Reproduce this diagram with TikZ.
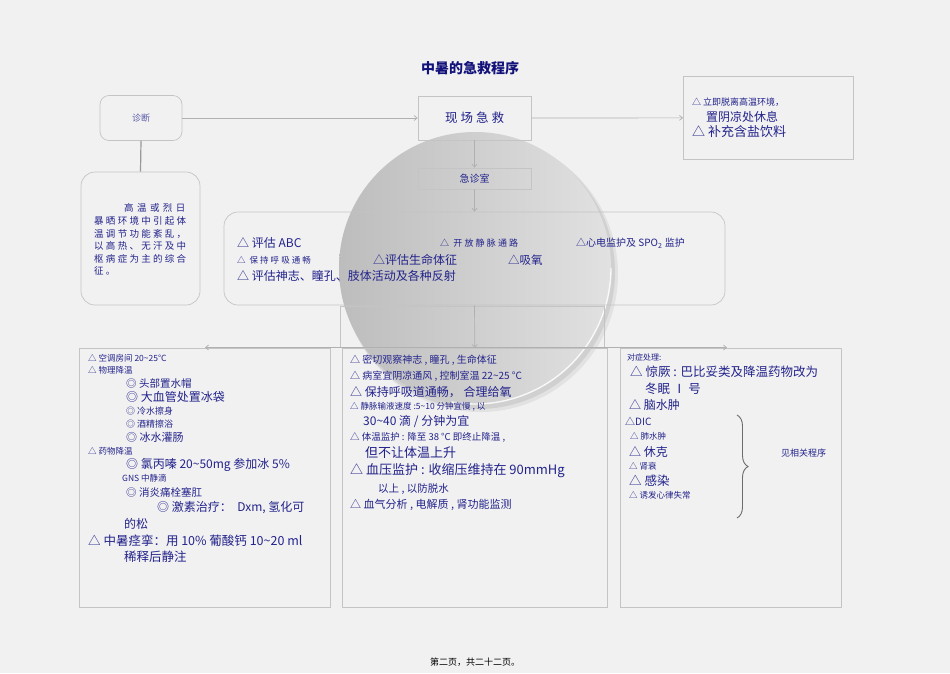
\documentclass[tikz,border=0pt]{standalone}
\usepackage{fontspec}
\setmainfont{Noto Sans CJK SC}
\newfontfamily\lspc[LetterSpace=24]{Noto Sans CJK SC}
\newfontfamily\lspd[LetterSpace=36]{Noto Sans CJK SC}
\usetikzlibrary{arrows.meta,decorations.pathreplacing}
\definecolor{bg}{HTML}{F1F1F1}
\definecolor{navy}{HTML}{23238C}
\definecolor{ttl}{HTML}{12127A}
\definecolor{ln}{HTML}{B0B0B0}
\definecolor{bd}{HTML}{C4C4C4}
\newcommand\fz[1]{\fontsize{#1}{#1}\selectfont}
\begin{document}
\begin{tikzpicture}[x=1pt,y=-1pt,
  box/.style={draw=bd, line width=0.7pt},
  rbox/.style={box, rounded corners=9pt},
  arr/.style={draw=ln, line width=0.7pt, -{Straight Barb[length=3pt,width=5pt]}},
  txt/.style={inner sep=0pt, anchor=west, text=navy},
  ]
\fill[bg] (0,0) rectangle (950,673);
\useasboundingbox (0,0) rectangle (950,673);
% magnifier disc
\fill[black, opacity=0.06] (480,274) circle (138);
\fill[black, opacity=0.08] (478,272) circle (137);
\shade[left color=gray!46!bg, right color=gray!14!bg] (475,268) circle (136);
\draw[white, line width=1.4pt, opacity=0.85] (475,268) ++(0:136) arc (0:100:136);
% title
\node[inner sep=0pt, text=ttl, font=\fz{14}\bfseries] (title) at (470,68) {中暑的急救程序};
% top row
\node[rbox, minimum width=82, minimum height=45, text=navy!75, font=\fz{9}] (zd) at (141,118) {诊断};
\node[box, minimum width=113, minimum height=44, text=navy, font=\fz{12.5}\lspc] (xc) at (474.5,118) {现场急救};
\node[box, minimum width=170, minimum height=83, anchor=north west] (tr) at (683,76) {};
\node[txt, font=\fz{9}] (tr1) at (692,102) {△ 立即脱离高温环境，};
\node[txt, font=\fz{12}] (tr2) at (706,117) {置阴凉处休息};
\node[txt, font=\fz{13}] (tr3) at (692,132) {△ 补充含盐饮料};
% left description box
\node[box, rounded corners=14pt, minimum width=119, minimum height=133] (ltb) at (140.5,238.5) {};
\node[txt, font=\fz{9.5}\lspd] (d1) at (124,208) {高温或烈日};
\node[txt, font=\fz{9.5}\lspc] (d2) at (94,221) {暴晒环境中引起体};
\node[txt, font=\fz{9.5}\lspc] (d3) at (94,234) {温调节功能紊乱，};
\node[txt, font=\fz{9.5}\lspc] (d4) at (94,246) {以高热、无汗及中};
\node[txt, font=\fz{9.5}\lspc] (d5) at (94,259) {枢病症为主的综合};
\node[txt, font=\fz{9.5}\lspc] (d6) at (94,271) {征。};
% emergency room
\node[box, minimum width=113, minimum height=21, text=navy, font=\fz{10}] (jz) at (474.5,178.5) {急诊室};
% big box
\node[box, rounded corners=14pt, minimum width=501, minimum height=93] (big) at (474.5,258.5) {};
\node[txt, font=\fz{12}] (b1) at (237,243) {△ 评估 ABC};
\node[txt, font=\fz{9}\lspc] (b2) at (440,243) {△ 开放静脉通路};
\node[txt, font=\fz{10}] (b3) at (576,243) {△心电监护及 SPO\textsubscript{2} 监护};
\node[txt, font=\fz{8.5}\lspc] (b4) at (237,260) {△ 保持呼吸通畅};
\node[txt, font=\fz{12}] (b5) at (373,260) {△评估生命体征};
\node[txt, font=\fz{11.5}] (b6) at (508,260) {△吸氧};
\node[txt, font=\fz{12}] (b7) at (237,276) {△ 评估神志、瞳孔、肢体活动及各种反射};
% back rectangle below big box
\node[box, minimum width=264, minimum height=41, anchor=north west] (bk) at (340,306) {};
% bottom boxes
\node[box, minimum width=251, minimum height=259, anchor=north west] (lb) at (79,348) {};
\node[box, minimum width=265, minimum height=259, anchor=north west] (mb) at (342,348) {};
\node[box, minimum width=221, minimum height=259, anchor=north west] (rb) at (620,348) {};
% connectors
\draw[arr] (zd.east) -- (xc.west);
\draw[arr] (xc.east) -- (tr.west);
\draw[draw=gray!80, line width=1.2pt] (zd.south) -- (ltb.north);
\draw[arr] (xc.south) -- (jz.north);
\draw[arr] (jz.south) -- (big.north);
\draw[arr] (big.south) -- (mb.north);
\coordinate (j) at (475,347.5);
\coordinate (lt) at (205,347.5);
\coordinate (rt) at (727,347.5);
\draw[arr] (j) -- (lt);
\draw[arr] (j) -- (rt);
% left bottom text
\node[txt, font=\fz{8.5}] (l1) at (88,358) {△ 空调房间 20\textasciitilde25℃};
\node[txt, font=\fz{8.5}] (l2) at (88,370) {△ 物理降温};
\node[txt, font=\fz{10.5}] (l3) at (126,383) {◎ 头部置水帽};
\node[txt, font=\fz{12}] (l4) at (126,397) {◎ 大血管处置冰袋};
\node[txt, font=\fz{9}] (l5) at (126,411) {◎ 冷水擦身};
\node[txt, font=\fz{9}] (l6) at (126,424) {◎ 酒精擦浴};
\node[txt, font=\fz{11}] (l7) at (126,437) {◎ 冰水灌肠};
\node[txt, font=\fz{8.5}] (l8) at (88,451) {△ 药物降温};
\node[txt, font=\fz{12}] (l9) at (126,465) {◎ 氯丙嗪 20\textasciitilde50mg 参加冰 5\%};
\node[txt, font=\fz{8.5}] (l10) at (122,478) {GNS 中静滴};
\node[txt, font=\fz{10.5}] (l11) at (126,492) {◎ 消炎痛栓塞肛};
\node[txt, font=\fz{12}] (l12) at (157,508) {◎ 激素治疗：\ \ Dxm, 氢化可};
\node[txt, font=\fz{12}] (l13) at (124,524) {的松};
\node[txt, font=\fz{12.5}] (l14) at (88,541) {△ 中暑痉挛：用 10\% 葡酸钙 10\textasciitilde20 ml};
\node[txt, font=\fz{12.5}] (l15) at (124,557) {稀释后静注};
% middle bottom text
\node[txt, font=\fz{10}] (m1) at (350,360) {△ 密切观察神志 , 瞳孔 , 生命体征};
\node[txt, font=\fz{10}] (m2) at (350,376) {△ 病室宜阴凉通风 , 控制室温 22\textasciitilde25 °C};
\node[txt, font=\fz{12}] (m3) at (350,392) {△ 保持呼吸道通畅，\ 合理给氧};
\node[txt, font=\fz{8.5}] (m4) at (350,407) {△ 静脉输液速度 :5\textasciitilde10 分钟宜慢 , 以};
\node[txt, font=\fz{12}] (m5) at (363,421) {30\textasciitilde40 滴 / 分钟为宜};
\node[txt, font=\fz{9.5}] (m6) at (350,437) {△ 体温监护 : 降至 38 °C 即终止降温 ,};
\node[txt, font=\fz{13}] (m7) at (365,453) {但不让体温上升};
\node[txt, font=\fz{13}] (m8) at (350,471) {△ 血压监护 : 收缩压维持在 90mmHg};
\node[txt, font=\fz{10.5}] (m9) at (378,489) {以上 , 以防脱水};
\node[txt, font=\fz{11}] (m10) at (350,505) {△ 血气分析 , 电解质 , 肾功能监测};
% right bottom text
\node[txt, font=\fz{8}] (r1) at (627,357) {对症处理:};
\node[txt, font=\fz{12.5}] (r2) at (630,372) {△ 惊厥 : 巴比妥类及降温药物改为};
\node[txt, font=\fz{12.5}] (r3) at (645,389) {冬眠 Ⅰ 号};
\node[txt, font=\fz{12}] (r4) at (629,405) {△ 脑水肿};
\node[txt, font=\fz{10}] (r5) at (625,421) {△DIC};
\node[txt, font=\fz{8.5}] (r6) at (630,436) {△ 肺水肿};
\node[txt, font=\fz{12}] (r7) at (629,452) {△ 休克};
\node[txt, font=\fz{8.5}] (r8) at (629,466) {△ 肾衰};
\node[txt, font=\fz{12.5}] (r9) at (629,481) {△ 感染};
\node[txt, font=\fz{8.5}] (r10) at (629,495) {△ 诱发心律失常};
\coordinate (bt) at (737,415);
\coordinate (bb) at (737,518);
\draw[draw=gray!85!black, line width=0.9pt, decorate, decoration={brace, amplitude=11pt}] (bt) -- (bb);
\node[txt, font=\fz{9}] (r11) at (781,453) {见相关程序};
% footer
\node[inner sep=0pt, text=black, font=\fz{9}] (foot) at (475,662) {第二页，共二十二页。};
\end{tikzpicture}
\end{document}
